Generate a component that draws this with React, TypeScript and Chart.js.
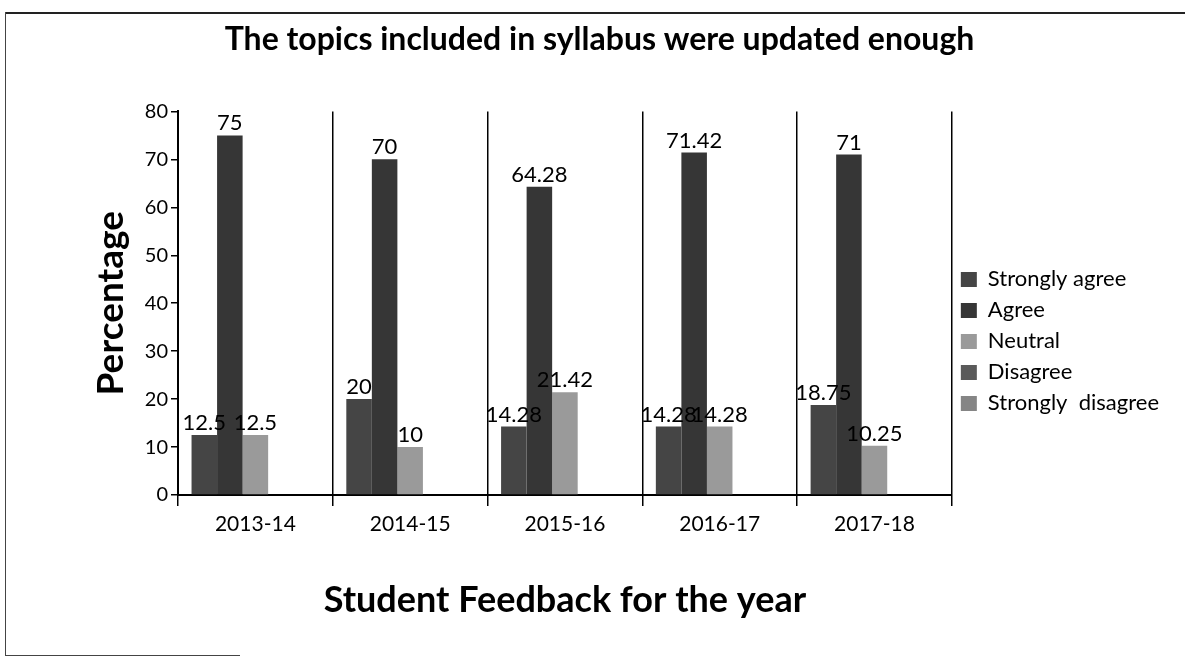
import React, { useEffect, useRef } from "react";
import { Chart, registerables } from "chart.js";

Chart.register(...registerables);

const years = ["2013-14", "2014-15", "2015-16", "2016-17", "2017-18"];
const seriesNames = ["Strongly agree", "Agree", "Neutral", "Disagree", "Strongly  disagree"];
const stronglyAgree = [12.5, 20, 14.28, 14.28, 18.75];
const agree = [75, 70, 64.28, 71.42, 71];
const neutral = [12.5, 10, 21.42, 14.28, 10.25];
const disagree = [0, 0, 0, 0, 0];
const stronglyDisagree = [0, 0, 0, 0, 0];
const seriesColors = ["#454545", "#363636", "#9a9a9a", "#5a5a5a", "#858585"];
const yTicks = [0, 10, 20, 30, 40, 50, 60, 70, 80];

const FONT = "Lato, 'Open Sans', sans-serif";

const valueLabels = {
  id: "valueLabels",
  afterDatasetsDraw(chart: any) {
    const ctx = chart.ctx;
    ctx.save();
    ctx.font = `22px ${FONT}`;
    ctx.fillStyle = "#000";
    ctx.textAlign = "center";
    ctx.textBaseline = "bottom";
    chart.data.datasets.forEach((ds: any, i: number) => {
      const meta = chart.getDatasetMeta(i);
      meta.data.forEach((el: any, j: number) => {
        const v = ds.data[j];
        if (!v) return;
        ctx.fillText(String(v), el.x, el.y - 1);
      });
    });
    ctx.restore();
  },
};

export default function App() {
  const ref = useRef<HTMLCanvasElement>(null);
  useEffect(() => {
    if (!ref.current) return;
    const lastIdx = years.length;
    const chart = new Chart(ref.current, {
      type: "bar",
      data: {
        labels: years,
        datasets: [stronglyAgree, agree, neutral, disagree, stronglyDisagree].map((d, i) => ({
          label: seriesNames[i],
          data: d,
          backgroundColor: seriesColors[i],
          borderWidth: 0,
          categoryPercentage: 0.825,
          barPercentage: 1,
        })),
      },
      options: {
        responsive: false,
        animation: false,
        layout: { padding: { left: 30, right: 16, top: 0, bottom: 41 } },
        plugins: {
          tooltip: { enabled: false },
          title: {
            display: true,
            text: "The topics included in syllabus were updated enough",
            color: "#000",
            font: { family: FONT, size: 32, weight: "bold" },
            padding: { top: 20, bottom: 53 },
          },
          legend: {
            position: "right",
            align: "start",
            title: { display: true, text: "", font: { size: 12 }, padding: { top: 245, bottom: 0 } },
            labels: {
              color: "#000",
              font: { family: FONT, size: 22 },
              boxWidth: 16,
              boxHeight: 15,
              padding: 9,
            },
          },
        },
        scales: {
          x: {
            offset: true,
            afterFit(scale: any) {
              scale.height = 127;
            },
            grid: {
              offset: true,
              color: (c: any) => (c.index === lastIdx ? "rgba(0,0,0,0)" : "#000"),
              tickColor: "#000",
              lineWidth: 1.5,
              tickLength: 11,
            },
            border: { color: "#000", width: 2 },
            ticks: { color: "#000", font: { family: FONT, size: 21 }, padding: 6 },
            title: {
              display: true,
              text: "Student Feedback for the year",
              color: "#000",
              font: { family: FONT, size: 36, weight: "bold" },
              padding: { top: 0, bottom: 0 },
            },
          },
          y: {
            min: 0,
            max: 80,
            afterFit(scale: any) {
              scale.width = 148;
            },
            afterBuildTicks(scale: any) {
              scale.ticks = yTicks.map((v) => ({ value: v }));
            },
            grid: { drawOnChartArea: false, tickLength: 7, tickColor: "#000", lineWidth: 1.5 },
            border: { color: "#000", width: 2 },
            ticks: { color: "#000", font: { family: FONT, size: 20 }, padding: 3 },
            title: {
              display: true,
              text: "Percentage",
              color: "#000",
              font: { family: FONT, size: 37, weight: "bold" },
              padding: { top: 59, bottom: 0 },
            },
          },
        },
      },
      plugins: [valueLabels],
    });
    return () => chart.destroy();
  }, []);

  return (
    <div style={{ position: "fixed", left: 0, top: 0, width: 1185, height: 663, background: "#fff" }}>
      <div style={{ position: "absolute", left: 5, top: 12, width: 1180, height: 0, borderTop: "2px solid #222" }} />
      <div style={{ position: "absolute", left: 5, top: 12, width: 0, height: 643, borderLeft: "1px solid #444" }} />
      <div style={{ position: "absolute", left: 5, top: 655, width: 235, height: 0, borderTop: "1px solid #444" }} />
      <canvas ref={ref} width={1185} height={663} style={{ position: "absolute", left: 0, top: 0 }} />
    </div>
  );
}
